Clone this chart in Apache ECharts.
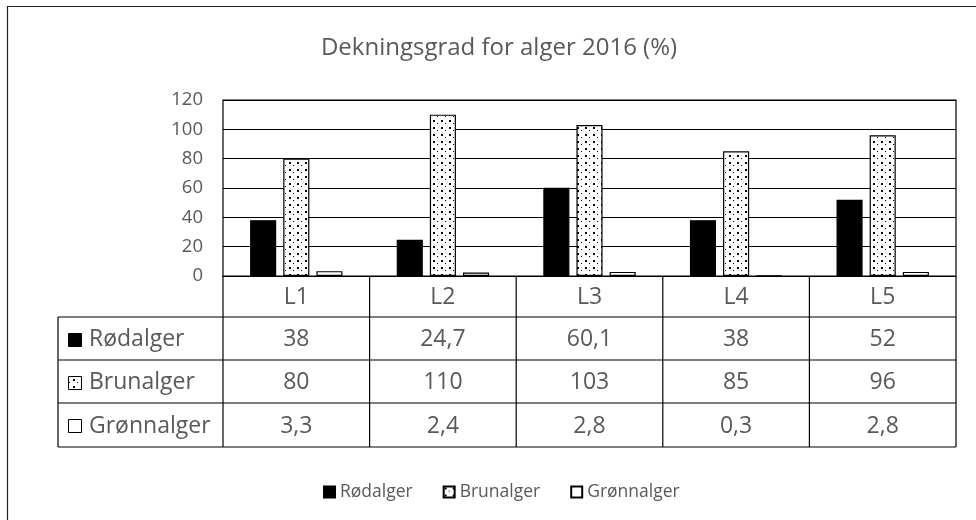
<!DOCTYPE html>
<html><head><meta charset="utf-8">
<script src="https://cdn.jsdelivr.net/npm/echarts@6/dist/echarts.min.js"></script>
<style>html,body{margin:0;padding:0;background:#fff}#c{width:976px;height:520px}</style>
</head><body><div id="c"></div>
<script>
const chartTitle = 'Dekningsgrad for alger 2016 (%)';
const categories = ['L1', 'L2', 'L3', 'L4', 'L5'];
const seriesNames = ['Rødalger', 'Brunalger', 'Grønnalger'];
const rodalger = [38, 24.7, 60.1, 38, 52];
const brunalger = [80, 110, 103, 85, 96];
const gronnalger = [3.3, 2.4, 2.8, 0.3, 2.8];
const yMin = 0, yMax = 120, yStep = 20;

const FONT = 'Open Sans';
const TXT = '#595959';
const LINE = '#000';

function makeDots() {
  const c = document.createElement('canvas');
  c.width = 8; c.height = 7;
  const ctx = c.getContext('2d');
  ctx.fillStyle = '#fff'; ctx.fillRect(0, 0, 8, 7);
  ctx.fillStyle = '#000';
  ctx.fillRect(1, 1, 2, 2);
  ctx.fillRect(5, 4, 1, 1);
  return c;
}
const dotPattern = { image: makeDots(), repeat: 'repeat' };

const styles = [
  { color: '#000', borderColor: '#000', borderWidth: 1.2 },
  { color: dotPattern, borderColor: '#000', borderWidth: 1.2 },
  { color: '#fff', borderColor: '#000', borderWidth: 1.2 }
];
const allData = [rodalger, brunalger, gronnalger];

const chart = echarts.init(document.getElementById('c'), null, { renderer: 'canvas' });
const option = {
  animation: false,
  backgroundColor: '#fff',
  title: {
    text: chartTitle, left: 494, top: 31, textAlign: 'center',
    textStyle: { fontFamily: FONT, fontSize: 24, fontWeight: 'normal', color: TXT }
  },
  legend: {
    left: 318, top: 478, itemWidth: 11, itemHeight: 11, itemGap: 30,
    icon: 'rect',
    textStyle: { fontFamily: FONT, fontSize: 17.5, color: TXT },
    data: seriesNames
  },
  grid: {
    left: 223, right: 20, top: 100, height: 176,
    show: true, borderColor: LINE, borderWidth: 1.2, containLabel: false
  },
  xAxis: {
    type: 'category', data: categories,
    axisLine: { show: true, lineStyle: { color: LINE, width: 1.2 } },
    axisTick: { show: false }, axisLabel: { show: false }
  },
  yAxis: {
    type: 'value', min: yMin, max: yMax, interval: yStep,
    axisLine: { show: false }, axisTick: { show: false },
    axisLabel: { fontFamily: FONT, fontSize: 18.5, color: TXT, margin: 20 },
    splitLine: { lineStyle: { color: LINE, width: 1.2 } }
  },
  series: seriesNames.map((n, i) => ({
    name: n, type: 'bar', data: allData[i],
    barWidth: '17.8%', barGap: '27%',
    itemStyle: styles[i]
  }))
};
chart.setOption(option);

function fmt(v) { return String(v).replace('.', ','); }

const c0 = chart.convertToPixel({ xAxisIndex: 0 }, categories[0]);
const c1 = chart.convertToPixel({ xAxisIndex: 0 }, categories[1]);
const cw = c1 - c0;
const left = c0 - cw / 2;
const right = left + cw * categories.length;
const y0 = chart.convertToPixel({ yAxisIndex: 0 }, 0);
const tableLeft = 58;
const rowH = [41, 43, 43, 44];
const rowY = [y0];
rowH.forEach(h => rowY.push(rowY[rowY.length - 1] + h));
const bottom = rowY[rowY.length - 1];
const TFS = 23;

const g = [];
const ls = { stroke: LINE, lineWidth: 1.2 };
// outer chart border
g.push({ type: 'polyline', shape: { points: [[7.5, 520], [7.5, 6.5], [976, 6.5]] }, style: { stroke: '#222', lineWidth: 1.2, fill: null } });
// horizontal lines
for (let r = 1; r < rowY.length; r++) {
  g.push({ type: 'line', shape: { x1: tableLeft, y1: rowY[r], x2: right, y2: rowY[r] }, style: ls });
}
// vertical lines
for (let k = 0; k <= categories.length; k++) {
  const x = left + k * cw;
  g.push({ type: 'line', shape: { x1: x, y1: y0, x2: x, y2: bottom }, style: ls });
}
g.push({ type: 'line', shape: { x1: tableLeft, y1: rowY[1], x2: tableLeft, y2: bottom }, style: ls });
// header
categories.forEach((c, i) => {
  g.push({ type: 'text', x: c0 + i * cw, y: (rowY[0] + rowY[1]) / 2 + 1,
    style: { text: c, fontFamily: FONT, fontSize: TFS, fill: TXT, align: 'center', verticalAlign: 'middle' } });
});
// rows
const iconFill = ['#000', dotPattern, '#fff'];
seriesNames.forEach((n, r) => {
  const cy = (rowY[r + 1] + rowY[r + 2]) / 2;
  g.push({ type: 'rect', shape: { x: 68.5, y: Math.round(cy - 6) + 0.5, width: 13, height: 13 },
    style: { fill: iconFill[r], stroke: '#000', lineWidth: 1 } });
  g.push({ type: 'text', x: 89, y: cy + 1,
    style: { text: n, fontFamily: FONT, fontSize: TFS, fill: TXT, align: 'left', verticalAlign: 'middle' } });
  allData[r].forEach((v, i) => {
    g.push({ type: 'text', x: c0 + i * cw, y: cy + 1,
      style: { text: fmt(v), fontFamily: FONT, fontSize: TFS, fill: TXT, align: 'center', verticalAlign: 'middle' } });
  });
});
chart.setOption({ graphic: { elements: g } });
</script>
</body></html>
